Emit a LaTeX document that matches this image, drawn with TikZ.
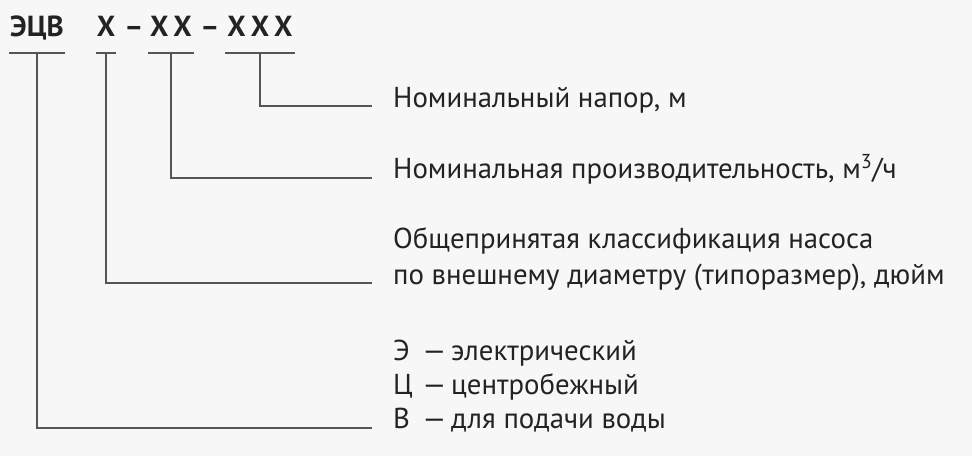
\documentclass[tikz,border=0pt]{standalone}
\usepackage{fontspec}
\setmainfont{PT Sans}
\definecolor{BackColor}{RGB}{247,247,247}
\definecolor{LineColor}{RGB}{85,85,85}
\definecolor{TextColor}{RGB}{35,35,35}
\tikzstyle{code-base}=[inner sep=0pt,
                       text=TextColor,
                       font=\fontsize{29}{32}\selectfont\bfseries,
                       anchor=base
                      ]
\tikzstyle{codepart}=[code-base]
\tikzstyle{underline}=[inner sep=0pt, minimum height=0pt]
\tikzstyle{legend}=[inner sep=0pt,
                    text=TextColor,
                    font=\fontsize{28.8}{32}\selectfont,
                    anchor=base west
                   ]
\tikzstyle{leader}=[draw=LineColor, line width=1.3pt]
\newcommand{\letterdash}[2]{\makebox[28pt][l]{#1}\makebox[30pt][l]{\scalebox{1.4}[1]{–}}#2}

\begin{document}
\begin{tikzpicture}[x=1pt, y=-1pt]

\fill[BackColor] (0,0) rectangle (972,456);

% pump code
\node at (37, 36) (code_ecv) [codepart] {ЭЦВ};
\node at (106, 36) (code_size) [codepart] {X};
\node at (134, 36) (dash1) [codepart] {–};
\node at (171, 36) (code_flow) [codepart] {X\hspace{5pt}X};
\node at (210, 36) (dash2) [codepart] {–};
\node at (260, 36) (code_head) [codepart] {X\hspace{5pt}X\hspace{5pt}X};

% underlines
\node at (37, 53) (ul_ecv) [underline, minimum width=55pt] {};
\node at (106, 53) (ul_size) [underline, minimum width=19pt] {};
\node at (171, 53) (ul_flow) [underline, minimum width=46pt] {};
\node at (260, 53) (ul_head) [underline, minimum width=70pt] {};
\draw[leader] (ul_ecv.west) -- (ul_ecv.east);
\draw[leader] (ul_size.west) -- (ul_size.east);
\draw[leader] (ul_flow.west) -- (ul_flow.east);
\draw[leader] (ul_head.west) -- (ul_head.east);

% legend
\node at (393, 107) (text_head) [legend] {Номинальный напор, м};
\node at (393, 178) (text_flow) [legend] {Номинальная производительность, м\textsuperscript{3}/ч};
\node at (393, 248) (text_size1) [legend] {Общепринятая классификация насоса};
\node at (393, 284) (text_size2) [legend] {по внешнему диаметру (типоразмер), дюйм};
\node at (393, 360) (text_ecv1) [legend] {\letterdash{Э}{электрический}};
\node at (393, 394) (text_ecv2) [legend] {\letterdash{Ц}{центробежный}};
\node at (393, 428) (text_ecv3) [legend] {\letterdash{В}{для подачи воды}};

\coordinate (end_head) at (372, 106);
\coordinate (end_flow) at (372, 178);
\coordinate (end_size) at (372, 283);
\coordinate (end_ecv) at (372, 428);

\draw[leader] (ul_head.center) |- (end_head);
\draw[leader] (ul_flow.center) |- (end_flow);
\draw[leader] (ul_size.center) |- (end_size);
\draw[leader] (ul_ecv.center) |- (end_ecv);

\end{tikzpicture}
\end{document}
